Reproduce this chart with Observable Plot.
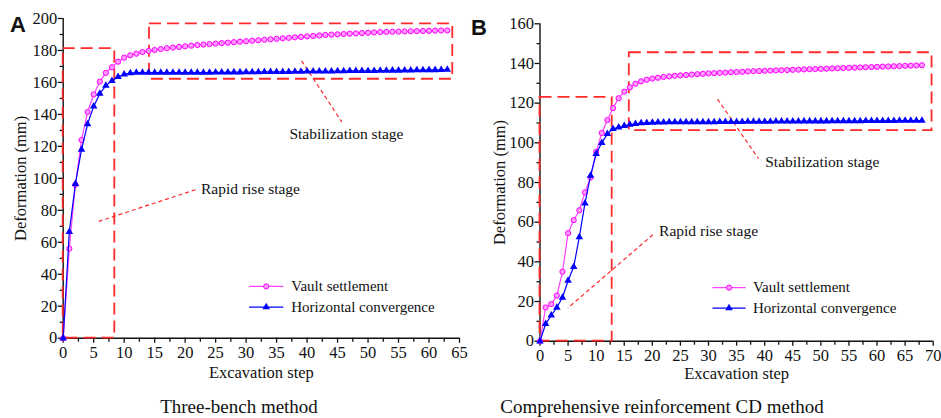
<!DOCTYPE html>
<html><head><meta charset="utf-8">
<script src="https://cdn.jsdelivr.net/npm/d3@7"></script>
<script src="https://cdn.jsdelivr.net/npm/@observablehq/plot@0.6"></script>
<style>
body{margin:0;background:#fff;}
#wrap{position:relative;width:941px;height:418px;font-family:"Liberation Serif","Times New Roman","DejaVu Serif",serif;color:#111;}
.panel{position:absolute;top:0;}
.letter{position:absolute;font-family:"Liberation Sans",Arial,sans-serif;font-weight:bold;font-size:22px;line-height:1;}
.caption{position:absolute;font-size:19px;line-height:1;transform:translateX(-50%);white-space:nowrap;}
</style></head><body>
<div id="wrap">
  <div class="panel" id="pa" style="left:0"></div>
  <div class="panel" id="pb" style="left:470px"></div>
  <div class="letter" style="left:10px;top:14px">A</div>
  <div class="letter" style="left:471px;top:17px">B</div>
  <div class="caption" style="left:239px;top:397px">Three-bench method</div>
  <div class="caption" style="left:662px;top:397px">Comprehensive reinforcement CD method</div>
</div>
<script>
// ---------- DATA ----------
// Panel A: Three-bench method (excavation steps 0..63)
const vaultA = [0,56,96,124,141.5,152.5,160.5,166,169.5,173,175.5,177,178,179,179.7,180.3,180.9,181.4,181.8,182.2,182.6,183,183.4,183.7,184,184.3,184.6,184.9,185.2,185.5,185.8,186.1,186.4,186.7,187,187.3,187.6,187.9,188.2,188.5,188.8,189.1,189.4,189.7,189.9,190.1,190.3,190.5,190.7,190.9,191.1,191.3,191.5,191.6,191.7,191.8,191.9,192,192.1,192.2,192.3,192.4,192.5,192.5];
const horizA = [0,66.5,96.5,118,134,145,153,158,161,163.5,165,165.8,166.1,166.2,166.2,166.1,166.1,166.1,166.1,166.1,166.1,166.1,166.2,166.2,166.2,166.3,166.3,166.3,166.4,166.4,166.5,166.5,166.5,166.6,166.6,166.7,166.7,166.7,166.8,166.8,166.9,166.9,167,167,167,167.1,167.1,167.2,167.2,167.3,167.3,167.3,167.4,167.4,167.5,167.5,167.6,167.6,167.7,167.7,167.8,167.8,167.9,168];
// Panel B: Comprehensive reinforcement CD method (excavation steps 0..68)
const vaultB = [0,17,18.7,23,35,54.5,61,66,75,82.5,95.5,105,111.5,117.5,122.5,125.8,128,129.8,131,131.8,132.4,132.8,133.2,133.5,133.8,134,134.2,134.4,134.6,134.8,135,135.1,135.3,135.4,135.6,135.7,135.8,136,136.1,136.2,136.3,136.4,136.5,136.6,136.7,136.8,136.9,137,137.1,137.2,137.3,137.4,137.5,137.6,137.7,137.8,137.9,138,138.1,138.2,138.3,138.4,138.5,138.6,138.7,138.8,138.9,139,139.1];
const horizB = [0,8.7,13,17,22,30.5,37.5,52.5,69.5,83.5,94.5,100,104.5,107,107.8,108.6,109.2,109.6,109.9,110.1,110.2,110.3,110.3,110.4,110.4,110.4,110.4,110.5,110.5,110.5,110.5,110.5,110.6,110.6,110.6,110.6,110.6,110.7,110.7,110.7,110.7,110.7,110.8,110.8,110.8,110.8,110.8,110.9,110.9,110.9,110.9,110.9,111,111,111,111,111,111,111.1,111.1,111.1,111.1,111.1,111.1,111.2,111.2,111.2,111.2,111.2];

const seriesNames = ["Vault settlement", "Horizontal convergence"];
const xLabel = "Excavation step";
const yLabel = "Deformation (mm)";
const stageLabels = ["Rapid rise stage", "Stabilization stage"];

const yTicksA = [0,20,40,60,80,100,120,140,160,180,200];
const yMinorA = [10,30,50,70,90,110,130,150,170,190];
const xTicksA = [0,5,10,15,20,25,30,35,40,45,50,55,60,65];
const xMinorA = [2.5,7.5,12.5,17.5,22.5,27.5,32.5,37.5,42.5,47.5,52.5,57.5,62.5];
const yTicksB = [0,20,40,60,80,100,120,140,160];
const yMinorB = [10,30,50,70,90,110,130,150];
const xTicksB = [0,5,10,15,20,25,30,35,40,45,50,55,60,65,70];
const xMinorB = [2.5,7.5,12.5,17.5,22.5,27.5,32.5,37.5,42.5,47.5,52.5,57.5,62.5,67.5];

// Annotation regions (data units)
const boxesA = [{x1:0,x2:8.46,y1:0,y2:181.2},{x1:14.15,x2:63.9,y1:162,y2:196.6}];
const pointersA = [{x1:21.7,y1:92.9,x2:5.84,y2:73.1},{x1:39.1,y1:173.5,x2:45.7,y2:135.3}];
const labelsA = [{x:22.6,y:93.3,t:stageLabels[0]},{x:37.1,y:127.5,t:stageLabels[1]}];
const legendA = {x1:30.5,x2:36.1,xt:37.4,y:[32.4,19.4]};

const boxesB = [{x1:0,x2:12.85,y1:0,y2:122.9},{x1:15.9,x2:69.8,y1:106.2,y2:145.4}];
const pointersB = [{x1:20.1,y1:53.7,x2:4.95,y2:16.7},{x1:31.6,y1:122,x2:38.9,y2:92}];
const labelsB = [{x:21.2,y:55.3,t:stageLabels[0]},{x:40.1,y:90.3,t:stageLabels[1]}];
const legendB = {x1:30.7,x2:36.6,xt:37.9,y:[27,16.7]};

// ---------- STYLE ----------
const MAG_LINE = "#ff40ff", MAG_STROKE = "#ff00ff", MAG_FILL = "#ff9cff";
const BLUE = "#0000ff", RED = "#ff2a2a";
const FONT = "'Liberation Serif','Times New Roman','DejaVu Serif',serif";

function panel(cfg) {
  const data = cfg.vault.map((v, i) => ({step: i, vault: v, horiz: cfg.horiz[i]}));
  const L = cfg.legend;
  const legData = seriesNames.map((n, i) => ({name: n, y: L.y[i], xm: (L.x1 + L.x2) / 2}));
  return Plot.plot({
    width: cfg.width, height: 385,
    marginLeft: cfg.ml, marginRight: cfg.mr, marginTop: cfg.mt, marginBottom: cfg.mb,
    x: {domain: [0, cfg.xMax]},
    y: {domain: [0, cfg.yMax]},
    style: {fontFamily: FONT, fontSize: "16.5px", color: "#111", background: "transparent", overflow: "visible"},
    marks: [
      Plot.axisY(cfg.yTicks, {tickSize: 5, tickPadding: 1, label: null, fontSize: 16.5, strokeWidth: 1.3}),
      Plot.axisY(cfg.yMinor, {tickSize: 3, tickFormat: () => "", label: null, strokeWidth: 1.3}),
      Plot.axisX(cfg.xTicks, {tickSize: 5, tickPadding: 3, label: null, fontSize: 16.5, strokeWidth: 1.3}),
      Plot.axisX(cfg.xMinor, {tickSize: 4, tickFormat: () => "", label: null, strokeWidth: 1.3}),
      Plot.ruleX([0], {stroke: "#111", strokeWidth: 1.4}),
      Plot.ruleY([0], {stroke: "#111", strokeWidth: 1.4}),
      Plot.text([yLabel], {frameAnchor: "left", rotate: -90, dx: cfg.ylDx, textAnchor: "middle", lineAnchor: "middle", fontSize: 16.5}),
      Plot.text([xLabel], {frameAnchor: "bottom", dy: cfg.xlDy, textAnchor: "middle", lineAnchor: "middle", fontSize: 16.5}),
      // annotations
      Plot.rect(cfg.boxes, {x1: "x1", x2: "x2", y1: "y1", y2: "y2", fill: "none", stroke: RED, strokeWidth: 1.8, strokeDasharray: "12,6"}),
      Plot.link(cfg.pointers, {x1: "x1", y1: "y1", x2: "x2", y2: "y2", stroke: RED, strokeWidth: 1.2, strokeDasharray: "4,3"}),
      Plot.text(cfg.labels, {x: "x", y: "y", text: "t", textAnchor: "start", fontSize: 15.5}),
      // series
      Plot.line(data, {x: "step", y: "vault", stroke: MAG_LINE, strokeWidth: 1.2}),
      Plot.dot(data, {x: "step", y: "vault", r: 2.6, fill: MAG_FILL, stroke: MAG_STROKE, strokeWidth: 1}),
      Plot.line(data, {x: "step", y: "horiz", stroke: BLUE, strokeWidth: 1.2}),
      Plot.dot(data, {x: "step", y: "horiz", symbol: "triangle", r: 2.8, fill: BLUE, stroke: "none"}),
      // legend
      Plot.link(legData, {x1: () => L.x1, x2: () => L.x2, y1: "y", y2: "y", stroke: (d, i) => i === 0 ? MAG_LINE : BLUE, strokeWidth: 1.2}),
      Plot.dot(legData.slice(0, 1), {x: "xm", y: "y", r: 2.6, fill: MAG_FILL, stroke: MAG_STROKE, strokeWidth: 1}),
      Plot.dot(legData.slice(1), {x: "xm", y: "y", symbol: "triangle", r: 2.8, fill: BLUE}),
      Plot.text(legData, {x: () => L.xt, y: "y", text: "name", textAnchor: "start", fontSize: 15})
    ]
  });
}

document.getElementById("pa").appendChild(panel({
  vault: vaultA, horiz: horizA, xMax: 65, yMax: 200,
  width: 470, ml: 62.7, mr: 11, mt: 18, mb: 47.3,
  yTicks: yTicksA, yMinor: yMinorA, xTicks: xTicksA, xMinor: xMinorA,
  ylDx: -42, xlDy: 35,
  boxes: boxesA, pointers: pointersA, labels: labelsA, legend: legendA
}));
document.getElementById("pb").appendChild(panel({
  vault: vaultB, horiz: horizB, xMax: 70, yMax: 160,
  width: 471, ml: 69.5, mr: 8.3, mt: 23.3, mb: 44.3,
  yTicks: yTicksB, yMinor: yMinorB, xTicks: xTicksB, xMinor: xMinorB,
  ylDx: -40.5, xlDy: 32.5,
  boxes: boxesB, pointers: pointersB, labels: labelsB, legend: legendB
}));
</script>
</body></html>
